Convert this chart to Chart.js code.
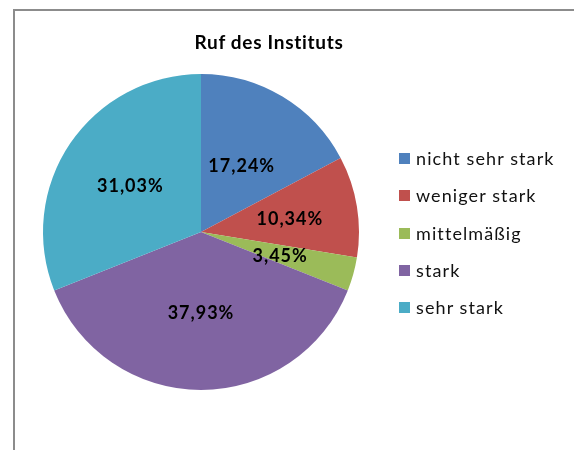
<!DOCTYPE html>
<html>
<head>
<meta charset="utf-8">
<script src="https://cdn.jsdelivr.net/npm/chart.js@4"></script>
<style>
  html, body { margin: 0; padding: 0; background: #fff; }
  #wrap { position: relative; width: 574px; height: 450px; overflow: hidden; font-family: Lato, "Open Sans", sans-serif; }
  #frame { position: absolute; left: 13px; top: 9px; width: 600px; height: 500px; border: 2px solid #8c8c8c; box-sizing: border-box; }
  #title { position: absolute; left: 0; width: 538px; top: 30px; text-align: center; font-weight: bold; font-size: 19px; letter-spacing: 0.7px; color: #000; }
  #chart { position: absolute; left: 0; top: 0; }
  #legend { position: absolute; left: 399px; top: 146px; }
  .legend-item { height: 37.3px; display: flex; align-items: flex-start; font-size: 18px; letter-spacing: 1.1px; color: #111; line-height: 24px; }
  .legend-dot { width: 11px; height: 11px; margin: 7px 6px 0 0; display: inline-block; }
</style>
</head>
<body>
<div id="wrap">
  <div id="frame"></div>
  <canvas id="chart" width="574" height="450"></canvas>
  <div id="title">Ruf des Instituts</div>
  <div id="legend"></div>
</div>
<script>
// DATA
const labels = ['nicht sehr stark', 'weniger stark', 'mittelmäßig', 'stark', 'sehr stark'];
const values = [17.24, 10.34, 3.45, 37.93, 31.03];
const colors = ['#4F81BD', '#C0504D', '#9BBB59', '#8064A2', '#4BACC6'];
// how far out (share of radius) each label sits
const labelPos = [0.5, 0.57, 0.52, 0.5, 0.54];

// draw the percent labels inside the slices
const sliceLabels = {
    id: 'sliceLabels',
    afterDatasetsDraw(chart) {
        const ctx = chart.ctx;
        const arcs = chart.getDatasetMeta(0).data;
        ctx.save();
        ctx.font = 'bold 18px Lato, "Open Sans", sans-serif';
        ctx.letterSpacing = '1px';
        ctx.fillStyle = '#000';
        ctx.textAlign = 'center';
        ctx.textBaseline = 'middle';
        arcs.forEach((arc, i) => {
            const mid = (arc.startAngle + arc.endAngle) / 2;
            const r = arc.outerRadius * labelPos[i];
            const x = arc.x + Math.cos(mid) * r;
            const y = arc.y + Math.sin(mid) * r;
            ctx.fillText(values[i].toFixed(2).replace('.', ',') + '%', x, y + 2);
        });
        ctx.restore();
    }
};

new Chart(document.getElementById('chart').getContext('2d'), {
    type: 'pie',
    data: { labels, datasets: [{ data: values, backgroundColor: colors, borderWidth: 0 }] },
    options: {
        responsive: false,
        animation: false,
        layout: { padding: { left: 42, top: 74, right: 214, bottom: 60 } },
        plugins: { legend: { display: false }, tooltip: { enabled: false }, title: { display: false } }
    },
    plugins: [sliceLabels]
});

document.getElementById('legend').innerHTML = labels.map((l, i) =>
    `<div class="legend-item"><span class="legend-dot" style="background:${colors[i]}"></span>${l}</div>`).join('');
</script>
</body>
</html>
